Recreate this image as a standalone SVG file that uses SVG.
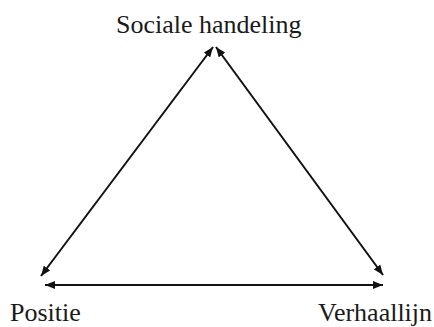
<svg xmlns="http://www.w3.org/2000/svg" width="434" height="327" viewBox="0 0 434 327">
<style>
.lbl{font-family:"Liberation Serif","Times New Roman",serif;font-size:26px;fill:#1a1a1a}
.ln{stroke:#111;stroke-width:2;fill:none}
</style>
<defs>
<marker id="ah" viewBox="0 0 10 8" refX="10" refY="4" markerWidth="10" markerHeight="8" markerUnits="userSpaceOnUse" orient="auto-start-reverse">
<path d="M0,0 L10,4 L0,8 Z" fill="#111"/>
</marker>
</defs>
<rect width="434" height="327" fill="#fff"/>
<g id="connectors">
<line class="ln" x1="213" y1="47" x2="41" y2="276" marker-start="url(#ah)" marker-end="url(#ah)"/>
<line class="ln" x1="216" y1="47" x2="383" y2="275" marker-start="url(#ah)" marker-end="url(#ah)"/>
<line class="ln" x1="45" y1="285" x2="383" y2="285" marker-start="url(#ah)" marker-end="url(#ah)"/>
</g>
<g id="sociale-handeling"><text class="lbl" x="116" y="33">Sociale handeling</text></g>
<g id="positie"><text class="lbl" x="10" y="321">Positie</text></g>
<g id="verhaallijn"><text class="lbl" x="318" y="321">Verhaallijn</text></g>
</svg>
